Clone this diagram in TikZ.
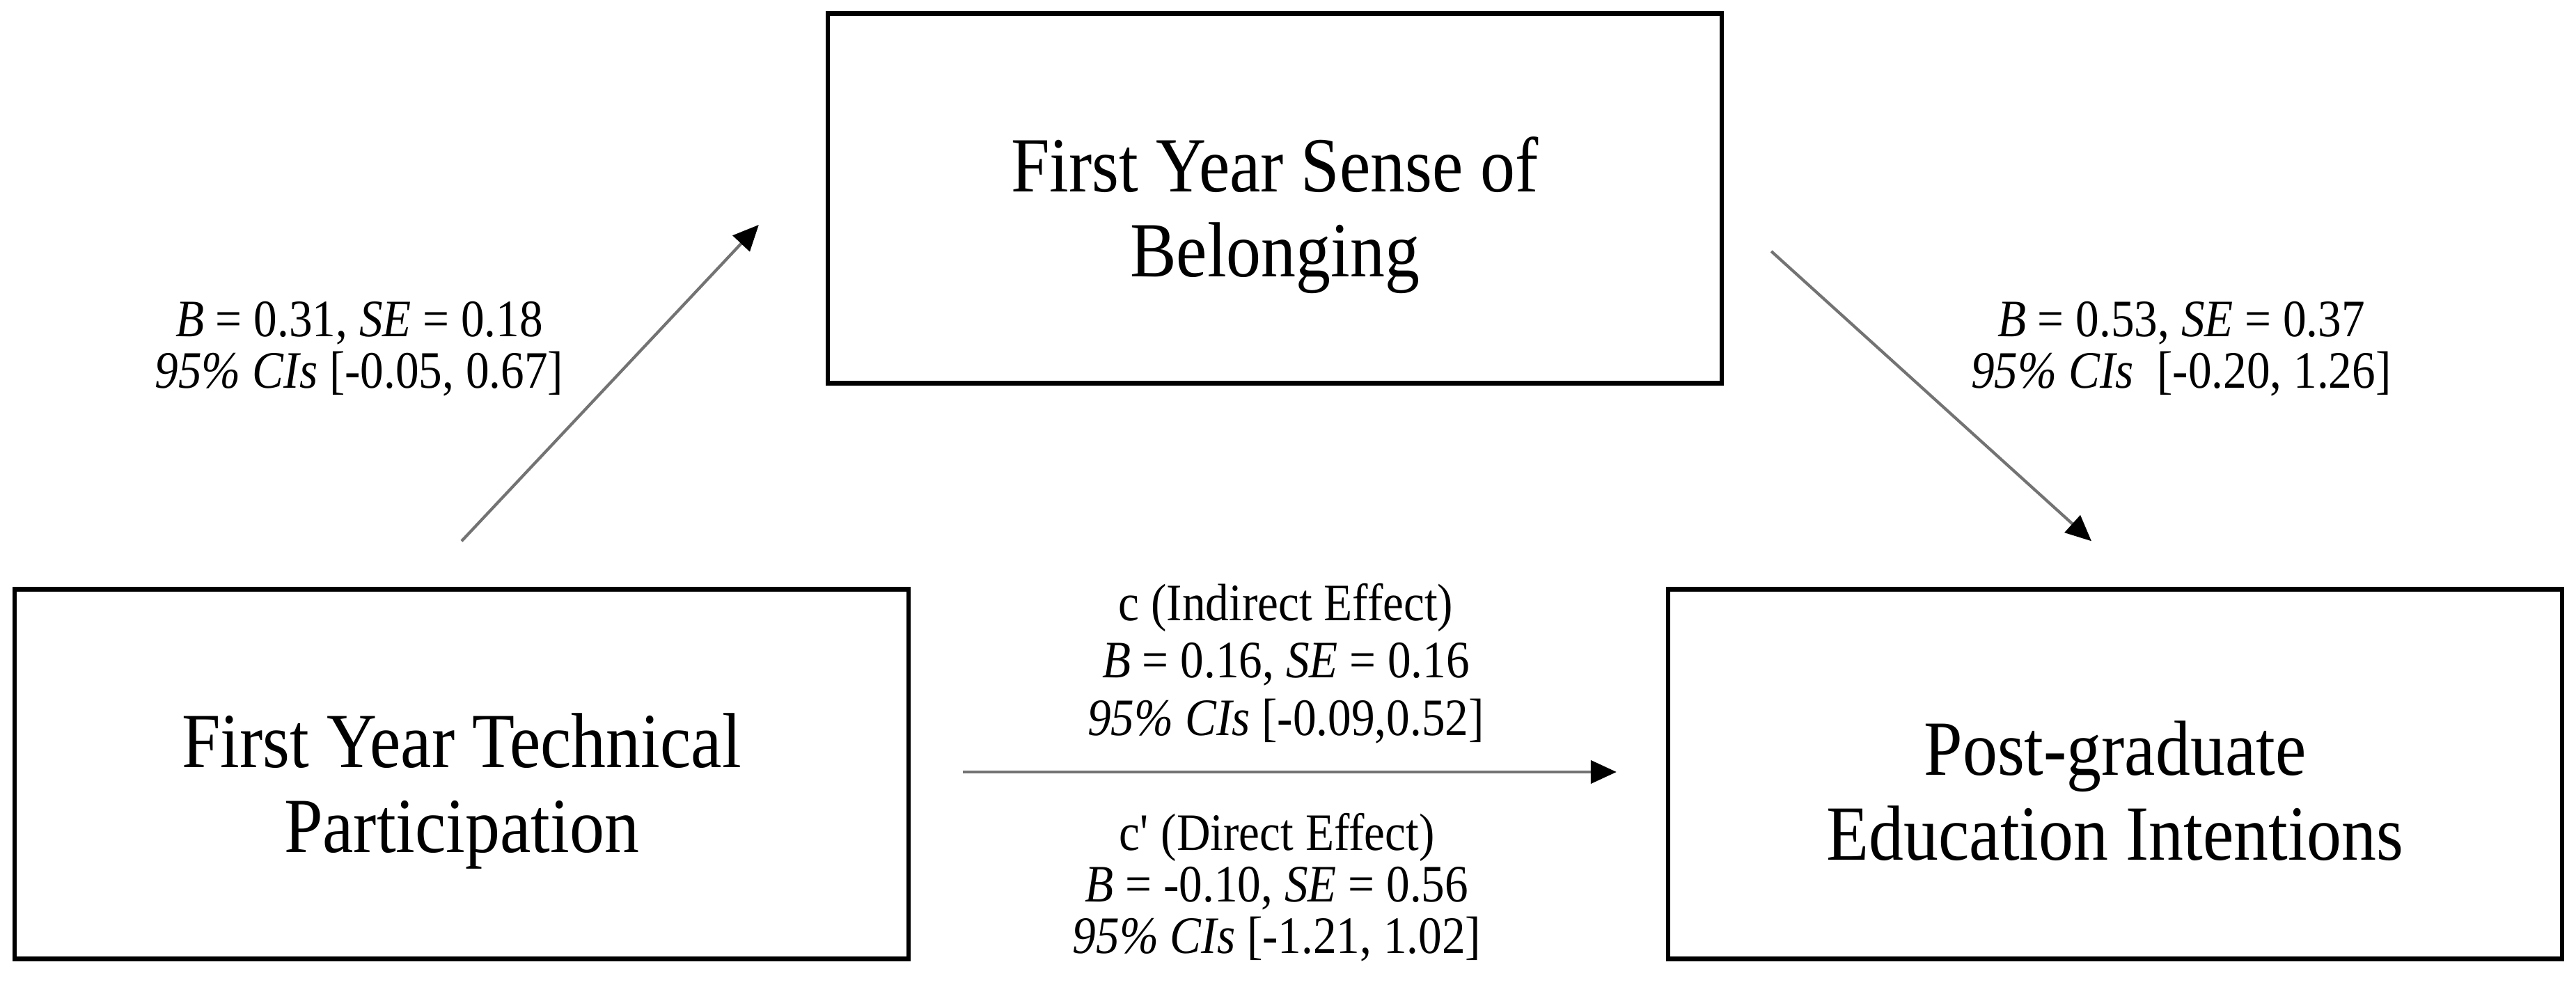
\documentclass[tikz,border=0pt]{standalone}
\usepackage{fontspec}
\setmainfont{Liberation Serif}[FakeStretch=0.89]
\usetikzlibrary{arrows.meta}
\newcommand{\boxstrut}{\rule{0pt}{1.27cm}}
\tikzset{varbox/.style={draw, line width=1.8pt, minimum width=12.84cm, minimum height=5.31cm, align=center, font=\fontsize{31.9}{34.7}\selectfont}}
\tikzset{stat/.style={align=center, font=\fontsize{21.5}{21}\selectfont}}
\tikzset{effect/.style={draw=black!55, line width=1.2pt, -{Triangle[length=0.37cm, width=0.33cm, color=black]}}}

\begin{document}
\begin{tikzpicture}
  \useasboundingbox (0, 0) rectangle (37, 14.15);
  % variables
  \node[varbox] (belong) at (18.31, 11.30) {\boxstrut First Year Sense of\\Belonging};
  \node[varbox] (tech) at (6.63, 3.03) {\boxstrut First Year Technical\\Participation};
  \node[varbox] (intent) at (30.38, 3.03) {\boxstrut Post-graduate\\Education Intentions};

  % arrow ends, kept clear of the boxes
  \coordinate (aStart) at ([yshift=0.66cm]tech.north);
  \coordinate (aEnd) at ([xshift=-0.96cm, yshift=-0.38cm]belong.west);
  \coordinate (bStart) at ([xshift=0.68cm, yshift=-0.76cm]belong.east);
  \coordinate (bEnd) at ([xshift=-0.34cm, yshift=0.66cm]intent.north);
  \coordinate (cStart) at ([xshift=0.75cm, yshift=0.03cm]tech.east);
  \coordinate (cEnd) at ([xshift=-0.71cm, yshift=0.03cm]intent.west);

  \draw[effect] (aStart) -- (aEnd);
  \draw[effect] (bStart) -- (bEnd);
  \draw[effect] (cStart) -- (cEnd);

  % estimates
  \node[stat] (statA) at (5.16, 9.14) {\textit{B} = 0.31, \textit{SE} = 0.18\\\textit{95\% CIs} [-0.05, 0.67]};
  \node[stat] (statB) at (31.33, 9.14) {\textit{B} = 0.53, \textit{SE} = 0.37\\\textit{95\% CIs}\ \ [-0.20, 1.26]};
  \node[stat, font=\fontsize{21.5}{23.4}\selectfont] (statC) at (18.47, 4.62) {c (Indirect Effect)\\\textit{B} = 0.16, \textit{SE} = 0.16\\\textit{95\% CIs} [-0.09,0.52]};
  \node[stat] (statD) at (18.34, 1.40) {c\textquotesingle{} (Direct Effect)\\\textit{B} = -0.10, \textit{SE} = 0.56\\\textit{95\% CIs} [-1.21, 1.02]};
\end{tikzpicture}
\end{document}
